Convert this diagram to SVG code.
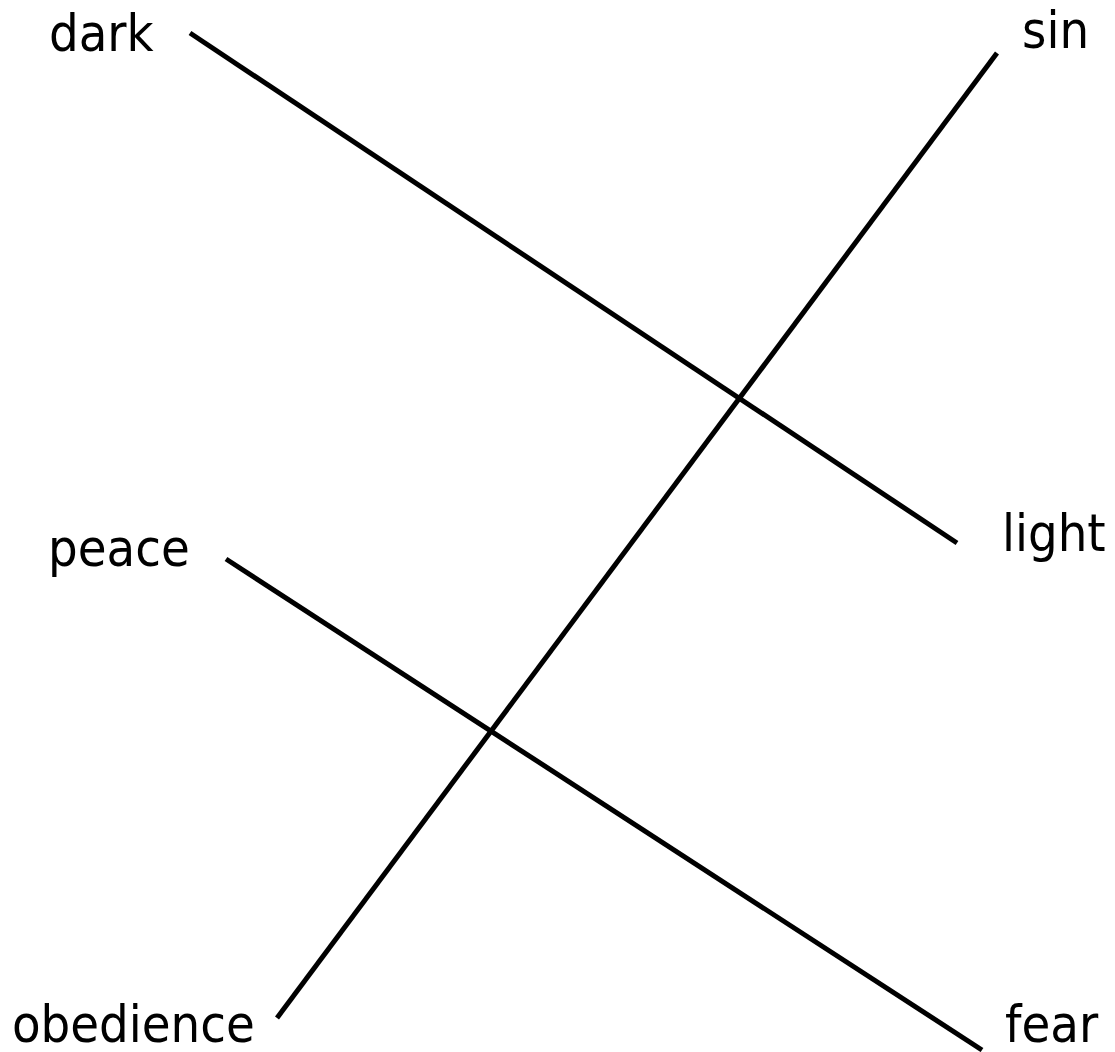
<svg xmlns="http://www.w3.org/2000/svg" width="1115" height="1052" viewBox="0 0 1115 1052">
<style>
text{font-family:"DejaVu Sans Condensed","DejaVu Sans",sans-serif;font-size:52px;fill:#000}
.c{stroke:#000;stroke-width:5;fill:none}
</style>
<rect width="1115" height="1052" fill="#fff"/>
<g id="connectors">
<line class="c" x1="190" y1="33" x2="957" y2="543"/>
<line class="c" x1="997" y1="53" x2="277" y2="1018"/>
<line class="c" x1="226" y1="559" x2="982" y2="1050"/>
</g>
<g id="dark"><text x="49" y="51">dark</text></g>
<g id="sin"><text x="1022" y="48">sin</text></g>
<g id="light"><text x="1002" y="551">light</text></g>
<g id="peace"><text x="48" y="566">peace</text></g>
<g id="obedience"><text x="12" y="1042">obedience</text></g>
<g id="fear"><text x="1005" y="1042">fear</text></g>
</svg>
